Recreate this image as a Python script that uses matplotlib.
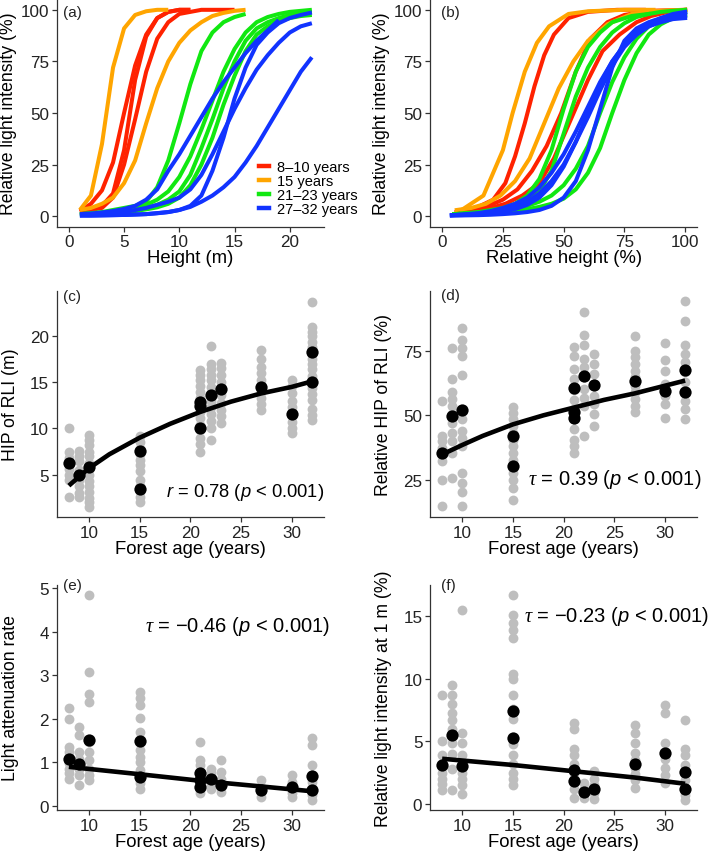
import matplotlib
matplotlib.use("Agg")
import matplotlib.pyplot as plt
from matplotlib.lines import Line2D

plt.rcParams['font.family'] = ['Liberation Sans', 'DejaVu Sans']
plt.rcParams['mathtext.fontset'] = 'custom'
plt.rcParams['mathtext.rm'] = 'Liberation Sans'
plt.rcParams['mathtext.it'] = 'Liberation Sans:italic'
plt.rcParams['mathtext.sf'] = 'Liberation Serif:italic'

RED, ORANGE, GREEN, BLUE = '#FF2200', '#FFA500', '#11E811', '#1133FF'

# ---- panel (a): light intensity vs height (m) ----
a_orange1 = [3, 10, 35, 72, 91, 97.5, 99.3, 100, 100]
a_orange2 = [3, 4, 6, 9, 16, 27, 45, 62, 75, 84, 90, 94, 97, 98.5, 99.5, 100]
a_red1 = [2.5, 6, 12.5, 26, 50, 73, 88, 96, 99, 100, 100]
a_red2 = [2, 3, 5, 11, 32, 66, 87, 96, 99, 100, 100]
a_red3 = [2, 3, 4, 9, 25, 47, 70, 86, 94, 98, 99, 100, 100, 100, 100]
a_green1 = [1, 1.5, 2, 3, 4, 5, 7, 14, 27, 45, 64, 80, 89, 94, 96.5, 98]
a_green2 = [1, 1.2, 1.5, 2, 3, 4, 5.5, 8, 12, 19, 29, 42, 56, 70, 81, 89, 94, 96.5, 98, 99, 99.5, 100]
a_green3 = [1, 1.1, 1.3, 1.6, 2.2, 3, 4, 5.5, 8, 12, 20, 33, 47, 62, 75, 85, 91, 94, 96, 97.5, 98.5, 99]
a_green4 = [0.8, 1, 1.2, 1.5, 1.9, 2.5, 3.3, 4.3, 6, 9, 15, 25, 38, 54, 68, 80, 88, 92, 94.5, 96, 97, 97.5]
a_blue1 = [1, 1.3, 1.8, 2.5, 3.5, 5, 8, 13, 22, 30, 39, 48, 57, 65, 72, 79, 85, 90, 95]
a_blue2 = [0.5, 0.8, 1, 1.5, 2, 3, 4, 5.5, 7, 9, 13, 20, 30, 41, 52, 62, 71, 78, 84, 89, 92, 93.5]
a_blue3 = [0.3, 0.3, 0.4, 0.5, 0.6, 0.8, 1, 1.5, 2, 3, 5, 10, 22, 38, 57, 72, 83, 89, 93.5, 96, 97.5, 98.7]
a_blue4 = [0.3, 0.3, 0.4, 0.5, 0.6, 0.8, 1, 1.4, 2, 3, 4.5, 7, 10, 14, 19, 26, 34, 43, 52, 61, 70, 77]

# ---- panel (b): light intensity vs relative height (%) ----
b_orange1_x = [8, 17, 25, 29, 34, 39, 44, 52, 60, 75, 87]
b_orange1 = [3, 10, 32, 50, 70, 84, 92, 98, 99.3, 100, 100]
b_orange2_x = [6, 12, 18, 24, 30, 36, 42, 48, 54, 60, 68, 78, 88, 100]
b_orange2 = [3, 4, 6, 10, 17, 28, 45, 62, 75, 85, 93, 98, 99.5, 100]
b_red1_x = [7, 14, 21, 26, 30, 34, 38, 42, 46, 52, 60, 72, 83]
b_red1 = [2.5, 4, 8, 16, 29, 45, 63, 78, 88, 96, 99, 100, 100]
b_red2_x = [6, 12, 19, 25, 31, 37, 43, 49, 55, 61, 68, 75, 85, 100]
b_red2 = [2, 3, 5, 8, 13, 22, 34, 50, 70, 86, 94, 97.5, 99.5, 100]
b_red3_x = [6, 13, 20, 26, 33, 40, 46, 53, 60, 66, 73, 80, 86, 93, 100]
b_red3 = [2, 3, 4, 6, 10, 16, 28, 47, 66, 80, 88, 94, 97, 99, 100]
b_green1_x = [5, 10, 15, 20, 25, 30, 35, 40, 45, 50, 55, 60, 65, 70, 78, 85]
b_green1 = [1, 1.5, 2, 3, 4, 6, 10, 18, 32, 52, 70, 82, 89, 94, 97, 98]
b_green_x = [5, 10, 15, 20, 25, 30, 35, 40, 45, 50, 55, 60, 65, 70, 75, 80, 85, 90, 95, 100]
b_green2 = [1, 1.3, 1.8, 2.5, 3.5, 5, 7.5, 12, 22, 40, 58, 72, 82, 89, 93.5, 96.5, 98, 99, 99.5, 100]
b_green3 = [1, 1.2, 1.5, 2, 2.7, 3.6, 5, 7, 10, 15, 23, 34, 50, 65, 77, 86, 92, 95.5, 97.5, 98.7]
b_green4 = [0.8, 1, 1.2, 1.5, 2, 2.6, 3.4, 4.5, 6, 8.5, 13, 21, 33, 50, 66, 79, 88, 93, 96, 97.5]
b_blue_x = [4, 10, 15, 20, 25, 30, 35, 40, 45, 50, 55, 60, 65, 70, 75, 80, 85, 90, 95, 100]
b_blue1 = [0.5, 1, 1.5, 2.5, 4, 6, 9, 14, 21, 30, 41, 53, 65, 75, 83, 89, 93, 96, 98, 99]
b_blue2 = [0.5, 0.8, 1.2, 2, 3, 4.5, 7, 11, 17, 25, 36, 48, 61, 73, 82, 88, 92, 94.5, 96, 97]
b_blue3 = [0.4, 0.6, 0.9, 1.4, 2.2, 3.4, 5.5, 9, 15, 24, 36, 50, 64, 75, 83, 88, 92, 94, 95.5, 96]
b_blue4 = [0.3, 0.4, 0.5, 0.7, 1, 1.4, 2, 3, 5, 9, 17, 32, 52, 72, 85, 91, 94, 96, 97.5, 98.5]

# ---- panels (c)-(f): plot values by forest age ----
ages = [8, 9, 10, 15, 21, 22, 23, 27, 30, 32]

c_gray = [[10.0, 7.4, 6.8, 6.3, 5.6, 5.0, 4.4, 2.6],
          [7.6, 7.0, 6.5, 5.5, 4.9, 4.4, 3.8, 3.0, 2.6],
          [9.3, 8.8, 8.2, 7.5, 7.0, 6.3, 5.6, 4.9, 4.3, 3.8, 3.1, 2.5, 2.0, 1.5],
          [9.2, 8.5, 7.8, 7.2, 6.6, 6.0, 5.4, 4.4, 3.8, 3.2, 2.6, 2.0],
          [16.3, 15.8, 15.2, 14.6, 14.0, 13.3, 12.5, 11.8, 11.1, 10.4, 9.8, 9.0, 8.3, 7.5],
          [18.9, 17.0, 16.4, 15.8, 15.2, 14.5, 13.8, 13.0, 12.3, 11.6, 10.8, 10.0, 8.8],
          [17.1, 16.5, 15.8, 15.0, 14.4, 13.6, 12.8, 12.0, 11.3, 10.6],
          [18.5, 17.5, 16.7, 16.0, 15.3, 14.6, 14.0, 13.3, 12.6, 12.0],
          [15.3, 14.6, 13.8, 13.0, 12.3, 11.5, 10.7, 10.1, 9.5],
          [23.7, 21.0, 20.5, 20.0, 19.4, 18.8, 18.1, 17.5, 17.0, 16.4, 15.7, 15.0,
           14.4, 13.7, 13.1, 12.1, 11.5, 10.9]]
c_mean_age = [8, 9, 10, 15, 15, 21, 21, 21, 22, 23, 27, 30, 32, 32]
c_mean = [6.3, 5.0, 5.8, 7.6, 3.4, 12.9, 12.4, 10.1, 13.6, 14.3, 14.5, 11.6, 18.3, 15.0]
c_fit_age = [8, 10, 12, 15, 18, 21, 24, 27, 30, 32]
c_fit = [3.8, 5.7, 7.2, 9.0, 10.5, 11.8, 12.9, 13.8, 14.5, 15.1]

d_gray = [[55.6, 41.9, 40.0, 37.4, 34.8, 32.2, 24.7, 14.6],
          [76.3, 64.0, 58.9, 56.3, 53.6, 50.4, 47.1, 43.2, 40.0, 35.4, 25.6],
          [84.1, 79.4, 76.3, 73.2, 65.6, 48.4, 43.9, 41.3, 38.0, 27.6, 23.7, 20.4, 14.6],
          [53.4, 51.0, 48.4, 45.8, 43.2, 40.6, 38.0, 35.4, 32.8, 30.2, 27.6, 25.0, 21.7, 17.2],
          [76.4, 73.2, 68.0, 64.0, 60.0, 56.0, 52.3, 48.4, 44.5, 40.6, 38.0, 35.4],
          [90.1, 81.3, 77.3, 71.9, 68.6, 64.7, 60.2, 56.9, 53.6, 41.9],
          [73.8, 69.9, 66.0, 62.1, 57.6, 54.3, 50.4, 45.8],
          [80.7, 75.1, 72.5, 69.9, 67.3, 64.7, 61.5, 58.9, 56.3, 53.6, 51.3],
          [78.1, 71.6, 67.3, 62.1, 60.2, 57.6, 54.3, 49.1],
          [94.3, 86.7, 77.3, 73.8, 70.6, 66.7, 62.8, 58.9, 55.6, 52.3, 48.4]]
d_mean_age = [8, 9, 10, 15, 15, 21, 21, 21, 22, 23, 27, 30, 32, 32]
d_mean = [35.2, 49.7, 52.1, 41.9, 30.2, 60.5, 51.3, 49.1, 65.1, 61.7, 63.3, 59.5, 67.7, 59.1]
d_fit_age = [8, 10, 12, 15, 18, 21, 24, 27, 30, 32]
d_fit = [34.8, 38.5, 42.0, 46.5, 50.0, 53.0, 56.0, 58.5, 61.5, 63.5]

e_gray = [[2.24, 2.0, 1.36, 1.24, 1.09, 0.98, 0.86, 0.75, 0.63],
          [1.82, 1.63, 1.24, 1.09, 0.98, 0.86, 0.71, 0.48],
          [4.83, 3.08, 2.58, 2.39, 1.47, 1.24, 1.05, 0.86, 0.71, 0.6],
          [2.62, 2.48, 2.31, 2.01, 1.70, 1.47, 1.28, 1.13, 1.02, 0.82, 0.63, 0.52, 0.40],
          [1.47, 1.05, 0.94, 0.79, 0.63, 0.52, 0.40, 0.29],
          [0.86, 0.75, 0.63, 0.48, 0.39],
          [1.05, 0.79, 0.63, 0.48, 0.33],
          [0.60, 0.44, 0.33, 0.21],
          [0.71, 0.56, 0.42, 0.29, 0.21],
          [1.56, 1.40, 0.94, 0.71, 0.56, 0.40, 0.25, 0.14]]
e_mean_age = [8, 9, 10, 15, 15, 21, 21, 21, 22, 23, 27, 30, 32, 32]
e_mean = [1.07, 0.96, 1.51, 1.50, 0.66, 0.75, 0.60, 0.44, 0.61, 0.48, 0.38, 0.43, 0.69, 0.36]
e_fit_age = [8, 15, 21, 27, 32]
e_fit = [0.90, 0.73, 0.58, 0.45, 0.34]

f_gray = [[8.7, 5.0, 3.9, 3.2, 2.5, 2.0, 1.6, 1.07],
          [9.5, 8.7, 8.0, 7.3, 6.7, 6.0, 4.9, 4.0, 2.8, 1.07],
          [15.5, 5.7, 4.9, 3.9, 2.5, 2.0, 1.5, 0.8],
          [16.7, 15.1, 14.5, 13.9, 13.3, 10.4, 10.0, 8.7, 7.6, 6.8, 4.8, 3.9, 3.2, 2.5, 2.0, 1.5],
          [6.5, 6.0, 4.4, 3.9, 3.2, 2.5, 2.0, 1.2, 0.5],
          [1.7, 1.2, 0.5],
          [2.6, 2.0, 1.5, 0.9, 0.4],
          [6.3, 5.7, 4.9, 4.1, 3.5, 2.9, 2.4, 1.9, 1.25],
          [7.9, 7.3, 4.9, 3.6, 2.9, 2.3, 1.7],
          [6.7, 4.4, 3.9, 3.1, 2.5, 1.9, 1.3, 0.7, 0.3]]
f_mean_age = [8, 9, 10, 15, 15, 21, 21, 22, 23, 27, 30, 32, 32]
f_mean = [3.1, 5.5, 3.05, 7.4, 5.25, 2.67, 1.79, 0.93, 1.2, 3.2, 4.08, 2.53, 1.15]
f_fit_age = [8, 15, 21, 27, 32]
f_fit = [3.6, 3.1, 2.6, 2.1, 1.6]

W, H = 709, 854
fig = plt.figure(figsize=(W / 100, H / 100), dpi=100)


def add_ax(l, t, r, b):
    return fig.add_axes([l / W, 1 - b / H, (r - l) / W, (b - t) / H])


def style(ax):
    for s in ['top', 'right']:
        ax.spines[s].set_visible(False)
    for s in ['left', 'bottom']:
        ax.spines[s].set_color('#333333')
        ax.spines[s].set_linewidth(0.9)
    ax.tick_params(length=3.5, width=0.9, color='#333333', labelsize=12.3,
                   labelcolor='#222222', pad=2)


LW = 2.9
XL = 13.3
YL = 12.7
ANN = 14.5
MINUS = '\u2212'

ax_a = add_ax(56.7, 0.5, 324, 227.5)
xs = lambda ys: list(range(1, len(ys) + 1))
for ys in [a_red1, a_red2, a_red3]:
    ax_a.plot(xs(ys), ys, color=RED, lw=LW, solid_capstyle='butt')
for ys in [a_orange1, a_orange2]:
    ax_a.plot(xs(ys), ys, color=ORANGE, lw=LW, solid_capstyle='butt')
for ys in [a_green1, a_green2, a_green3, a_green4]:
    ax_a.plot(xs(ys), ys, color=GREEN, lw=LW, solid_capstyle='butt')
for ys in [a_blue1, a_blue2, a_blue3, a_blue4]:
    ax_a.plot(xs(ys), ys, color=BLUE, lw=LW, solid_capstyle='butt')
ax_a.set_xlim(-1.1, 23.1)
ax_a.set_ylim(-5, 105)
ax_a.set_xticks([0, 5, 10, 15, 20])
ax_a.set_yticks([0, 25, 50, 75, 100])
ax_a.set_xlabel('Height (m)', fontsize=XL, labelpad=0)
handles = [Line2D([], [], color=c, lw=3.2) for c in [RED, ORANGE, GREEN, BLUE]]
leg = ax_a.legend(handles, ['8\u201310 years', '15 years', '21\u201323 years', '27\u201332 years'],
                  loc='lower left', bbox_to_anchor=(0.755, 0.045), frameon=False,
                  fontsize=10.5, handlelength=0.7, handletextpad=0.6, labelspacing=0.0,
                  borderpad=0, borderaxespad=0)

ax_b = add_ax(430, 0.5, 697.3, 227.5)
for xx, ys in [(b_red1_x, b_red1), (b_red2_x, b_red2), (b_red3_x, b_red3)]:
    ax_b.plot(xx, ys, color=RED, lw=LW)
for xx, ys in [(b_orange1_x, b_orange1), (b_orange2_x, b_orange2)]:
    ax_b.plot(xx, ys, color=ORANGE, lw=LW)
for xx, ys in [(b_green1_x, b_green1), (b_green_x, b_green2), (b_green_x, b_green3), (b_green_x, b_green4)]:
    ax_b.plot(xx, ys, color=GREEN, lw=LW)
for ys in [b_blue1, b_blue2, b_blue3, b_blue4]:
    ax_b.plot(b_blue_x, ys, color=BLUE, lw=LW)
ax_b.set_xlim(-5, 105)
ax_b.set_ylim(-5, 105)
ax_b.set_xticks([0, 25, 50, 75, 100])
ax_b.set_yticks([0, 25, 50, 75, 100])
ax_b.set_xlabel('Relative height (%)', fontsize=XL, labelpad=0)

for ax in [ax_a, ax_b]:
    ax.set_ylabel('Relative light intensity (%)', fontsize=YL)


def scatter_panel(ax, gray, mean_age, mean, fit_age, fit):
    for age, vals in zip(ages, gray):
        ax.scatter([age] * len(vals), vals, s=50, color='#BEBEBE', lw=0, zorder=1)
    ax.plot(fit_age, fit, color='black', lw=LW + 0.4, zorder=3, solid_capstyle='butt')
    ax.scatter(mean_age, mean, s=78, color='black', lw=0, zorder=4)
    ax.set_xlim(6.8, 33.2)
    ax.set_xticks([10, 15, 20, 25, 30])
    ax.set_xlabel('Forest age (years)', fontsize=XL, labelpad=0)


ax_c = add_ax(56.7, 292, 324, 518)
scatter_panel(ax_c, c_gray, c_mean_age, c_mean, c_fit_age, c_fit)
ax_c.set_ylim(0.4, 24.9)
ax_c.set_yticks([5, 10, 15, 20])
ax_c.set_ylabel('HIP of RLI (m)', fontsize=YL)
ax_c.text(1.0, 0.115, '$r$ = 0.78 ($p$ < 0.001)', transform=ax_c.transAxes,
          ha='right', va='center', fontsize=13.2)

ax_d = add_ax(430, 292, 697.3, 518)
scatter_panel(ax_d, d_gray, d_mean_age, d_mean, d_fit_age, d_fit)
ax_d.set_ylim(10.5, 98.3)
ax_d.set_yticks([25, 50, 75])
ax_d.set_ylabel('Relative HIP of RLI (%)', fontsize=YL)
ax_d.text(1.016, 0.17, r'$\mathsf{\tau}$ = 0.39 ($p$ < 0.001)', transform=ax_d.transAxes,
          ha='right', va='center', fontsize=ANN)

ax_e = add_ax(56.7, 586, 324, 811)
scatter_panel(ax_e, e_gray, e_mean_age, e_mean, e_fit_age, e_fit)
ax_e.set_ylim(-0.09, 5.07)
ax_e.set_yticks([0, 1, 2, 3, 4, 5])
ax_e.set_ylabel('Light attenuation rate', fontsize=YL)
ax_e.text(1.023, 0.818, r'$\mathsf{\tau}$ = ' + MINUS + '0.46 ($p$ < 0.001)',
          transform=ax_e.transAxes, ha='right', va='center', fontsize=ANN)

ax_f = add_ax(430, 586, 697.3, 811)
scatter_panel(ax_f, f_gray, f_mean_age, f_mean, f_fit_age, f_fit)
ax_f.set_ylim(-0.5, 17.5)
ax_f.set_yticks([0, 5, 10, 15])
ax_f.set_ylabel('Relative light intensity at 1 m (%)', fontsize=YL)
ax_f.text(1.044, 0.865, r'$\mathsf{\tau}$ = ' + MINUS + '0.23 ($p$ < 0.001)',
          transform=ax_f.transAxes, ha='right', va='center', fontsize=ANN)

for ax, xc in [(ax_a, 9), (ax_b, 382), (ax_c, 11), (ax_d, 383), (ax_e, 11), (ax_f, 383)]:
    style(ax)
    pos = ax.get_position()
    ax.yaxis.set_label_coords((xc / W - pos.x0) / pos.width, 0.5)
    ax.yaxis.label.set_verticalalignment('center')

for lab, x, y in [('(a)', 63, 13), ('(b)', 441, 13), ('(c)', 63, 297),
                  ('(d)', 441, 296), ('(e)', 63, 586), ('(f)', 441, 586)]:
    fig.text(x / W, 1 - y / H, lab, ha='left', va='center', fontsize=11, color='#222222')

fig.savefig('out.png', dpi=100)
